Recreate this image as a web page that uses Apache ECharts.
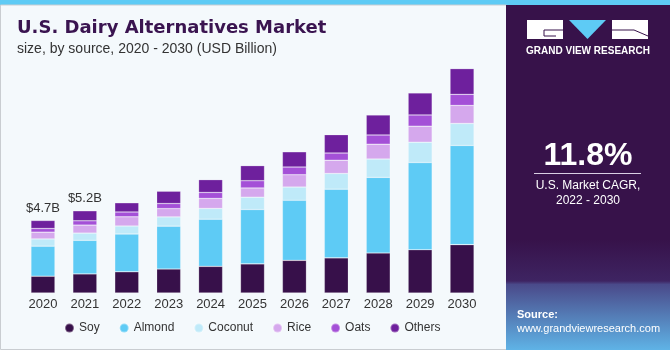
<!DOCTYPE html>
<html>
<head>
<meta charset="utf-8">
<script src="https://cdn.jsdelivr.net/npm/echarts@6/dist/echarts.min.js"></script>
<style>
  html, body { margin: 0; padding: 0; background: #f4f9fc; }
  #chart { width: 670px; height: 350px; }
</style>
</head>
<body>
<div id="chart"></div>
<script>
// ====== Data (USD Billion) ======
const years = ['2020', '2021', '2022', '2023', '2024', '2025', '2026', '2027', '2028', '2029', '2030'];
const soy     = [1.09, 1.24, 1.38, 1.56, 1.73, 1.89, 2.12, 2.28, 2.60, 2.81, 3.14];
const almond  = [1.95, 2.18, 2.45, 2.78, 3.06, 3.53, 3.90, 4.46, 4.91, 5.66, 6.44];
const coconut = [0.47, 0.47, 0.52, 0.60, 0.70, 0.80, 0.86, 1.02, 1.19, 1.32, 1.43];
const rice    = [0.44, 0.52, 0.60, 0.54, 0.65, 0.60, 0.80, 0.86, 0.96, 1.04, 1.17];
const oats    = [0.24, 0.28, 0.31, 0.33, 0.39, 0.47, 0.50, 0.47, 0.60, 0.73, 0.72];
const others  = [0.52, 0.65, 0.60, 0.80, 0.83, 0.98, 0.99, 1.19, 1.30, 1.43, 1.67];
const totalLabels = ['$4.7B', '$5.2B', '', '', '', '', '', '', '', '', ''];

const seriesNames = ['Soy', 'Almond', 'Coconut', 'Rice', 'Oats', 'Others'];
const seriesData = [soy, almond, coconut, rice, oats, others];
const colors = ['#37104a', '#5ecbf5', '#bfeaf9', '#d5a8ed', '#a450d7', '#6e209d'];

const font = '"Liberation Sans", Arial, sans-serif';

const chart = echarts.init(document.getElementById('chart'));

const series = seriesNames.map((name, i) => {
  const s = {
    name,
    type: 'bar',
    stack: 'total',
    barWidth: 24,
    data: seriesData[i],
    itemStyle: {
      color: colors[i],
      borderColor: 'rgba(255,255,255,0.35)',
      borderWidth: 0.6
    }
  };
  if (name === 'Others') {
    s.label = {
      show: true,
      position: 'top',
      distance: 6,
      color: '#333',
      fontSize: 13,
      fontFamily: font,
      formatter: (p) => totalLabels[p.dataIndex]
    };
  }
  return s;
});

const option = {
  animation: false,
  backgroundColor: '#f4f9fc',
  color: colors,
  title: [
    {
      text: 'U.S. Dairy Alternatives Market',
      left: 17,
      top: 19,
      padding: 0,
      textStyle: { color: '#3a1450', fontSize: 18, fontWeight: 'bold', fontFamily: '"DejaVu Sans", sans-serif' }
    },
    {
      text: 'size, by source, 2020 - 2030 (USD Billion)',
      left: 17,
      top: 42,
      padding: 0,
      textStyle: { color: '#333', fontSize: 14, fontWeight: 'normal', fontFamily: font }
    }
  ],
  legend: {
    left: 64,
    top: 322,
    padding: 0,
    icon: 'circle',
    itemWidth: 9,
    itemHeight: 9,
    itemGap: 19,
    textStyle: { color: '#333', fontSize: 12, fontFamily: font },
    data: seriesNames
  },
  grid: { left: 22, right: 187, top: 62, bottom: 57 },
  xAxis: {
    type: 'category',
    data: years,
    axisLine: { show: false },
    axisTick: { show: false },
    axisLabel: { color: '#333', fontSize: 13, fontFamily: font, margin: 5 }
  },
  yAxis: {
    type: 'value',
    min: 0,
    max: 15,
    show: false
  },
  series,
  graphic: [
    // top strip
    { type: 'rect', shape: { x: 0, y: 0, width: 670, height: 5 }, style: { fill: '#5ecbf5' }, z: 10 },
    // panel border
    { type: 'rect', shape: { x: 0.5, y: 5, width: 506, height: 344.5 }, style: { fill: 'none', stroke: '#c9cdd1', lineWidth: 1 }, z: 10 },
    // right dark panel
    {
      type: 'rect', shape: { x: 506, y: 5, width: 164, height: 345 },
      style: {
        fill: new echarts.graphic.LinearGradient(0, 0, 0, 1, [
          { offset: 0, color: '#37124a' },
          { offset: 0.68, color: '#37124a' },
          { offset: 0.8, color: '#3e2462' },
          { offset: 0.81, color: '#4a4a8a' },
          { offset: 1, color: '#5fb3e6' }
        ])
      },
      z: 10
    },
    // logo
    { type: 'rect', shape: { x: 527, y: 20, width: 36, height: 19 }, style: { fill: '#ffffff' }, z: 11 },
    { type: 'polyline', shape: { points: [[563, 30], [544, 30], [544, 36], [556, 36]] }, style: { stroke: '#37124a', lineWidth: 1, fill: 'none' }, z: 12 },
    { type: 'polygon', shape: { points: [[569, 20], [606, 20], [587.5, 39]] }, style: { fill: '#5ecbf5' }, z: 11 },
    { type: 'rect', shape: { x: 612, y: 20, width: 36, height: 19 }, style: { fill: '#ffffff' }, z: 11 },
    { type: 'line', shape: { x1: 634, y1: 30, x2: 648, y2: 36 }, style: { stroke: '#37124a', lineWidth: 1 }, z: 12 },
    { type: 'line', shape: { x1: 612, y1: 30, x2: 634, y2: 30 }, style: { stroke: '#37124a', lineWidth: 1 }, z: 12 },
    {
      type: 'text', x: 588, y: 51, z: 11,
      style: { text: 'GRAND VIEW RESEARCH', fill: '#ffffff', font: 'bold 10px ' + font, textAlign: 'center', textVerticalAlign: 'middle' }
    },
    // CAGR
    {
      type: 'text', x: 588, y: 156, z: 11,
      style: { text: '11.8%', fill: '#ffffff', font: 'bold 32px ' + font, textAlign: 'center', textVerticalAlign: 'middle' }
    },
    { type: 'line', shape: { x1: 534, y1: 173.5, x2: 641, y2: 173.5 }, style: { stroke: '#d9cfe3', lineWidth: 1 }, z: 11 },
    {
      type: 'text', x: 588, y: 186, z: 11,
      style: { text: 'U.S. Market CAGR,', fill: '#ffffff', font: '12px ' + font, textAlign: 'center', textVerticalAlign: 'middle' }
    },
    {
      type: 'text', x: 588, y: 201, z: 11,
      style: { text: '2022 - 2030', fill: '#ffffff', font: '12px ' + font, textAlign: 'center', textVerticalAlign: 'middle' }
    },
    // source
    {
      type: 'text', x: 517, y: 315, z: 11,
      style: { text: 'Source:', fill: '#ffffff', font: 'bold 11px ' + font, textAlign: 'left', textVerticalAlign: 'middle' }
    },
    {
      type: 'text', x: 517, y: 329, z: 11,
      style: { text: 'www.grandviewresearch.com', fill: '#ffffff', font: '11px ' + font, textAlign: 'left', textVerticalAlign: 'middle' }
    }
  ]
};

chart.setOption(option);
</script>
</body>
</html>
